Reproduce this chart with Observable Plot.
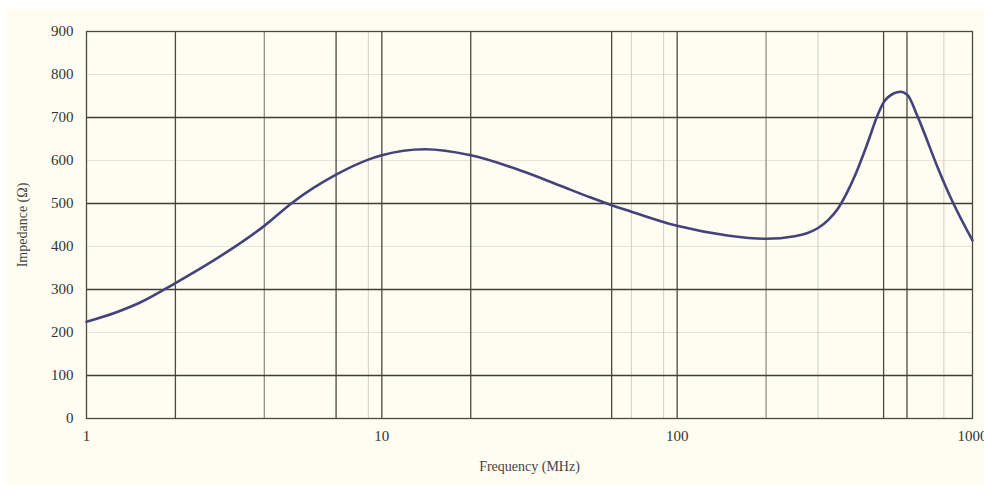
<!DOCTYPE html>
<html><head><meta charset="utf-8">
<script src="https://cdn.jsdelivr.net/npm/d3@7"></script>
<script src="https://cdn.jsdelivr.net/npm/@observablehq/plot@0.6"></script>
<style>
body{margin:0;background:#fff;}
#chart svg{display:block;border-top:9px solid #fff;border-left:6px solid #fff;background:#fffdf2;}
</style></head><body><div id="chart"></div>
<script>
const freq      = [1,   1.25, 1.5, 2,   3,   4,   5,   7,   9,   10,  14,  20,  30,  40,  50,  60,  70,  100, 150, 200, 250, 275, 300, 325, 350, 377, 400, 441, 477, 500, 541, 570, 603, 652, 762, 843, 1000];
const impedance = [225, 246,  268, 315, 388, 448, 503, 567, 602, 612, 626, 612, 575, 542, 516, 496, 481, 448, 425, 418, 424, 431, 443, 462, 488, 527, 565, 640, 705, 735, 756, 760, 752, 702, 584, 514, 414];
const xTicks = [1, 10, 100, 1000];
const yTicks = [0, 100, 200, 300, 400, 500, 600, 700, 800, 900];
const gridXDark = [2, 7, 10, 20, 60, 100, 500, 600];
const gridXMedium = [4, 200];
const gridXLight = [9, 70, 90, 300, 800];
const gridYDark = [100, 300, 500, 700];
const gridYLight = [200, 400, 600, 800];

const data = freq.map((f, i) => ({f, z: impedance[i]}));
const font = "'Liberation Serif', 'DejaVu Serif', serif";

const chart = Plot.plot({
  width: 978, height: 476,
  marginLeft: 80, marginRight: 12, marginTop: 22, marginBottom: 67,
  style: {background: "#fffdf2", fontFamily: font, fontSize: "15px", color: "#333", overflow: "hidden"},
  x: {type: "log", domain: [1, 1000]},
  y: {domain: [0, 900]},
  marks: [
    Plot.ruleY(gridYLight, {stroke: "#e6e3d3", strokeWidth: 1}),
    Plot.ruleX(gridXLight, {stroke: "#d2cfbf", strokeWidth: 1}),
    Plot.ruleX(gridXMedium, {stroke: "#8a887c", strokeWidth: 1.2}),
    Plot.ruleX(gridXDark, {stroke: "#4a4a40", strokeWidth: 1.3}),
    Plot.ruleY(gridYDark, {stroke: "#3f3f36", strokeWidth: 1.3}),
    Plot.frame({stroke: "#4a4a40", strokeWidth: 1.3}),
    Plot.axisX(xTicks, {tickSize: 0, tickPadding: 12, tickFormat: d => String(d), label: null, fill: "#333"}),
    Plot.axisY(yTicks, {tickSize: 0, tickPadding: 13, label: null, fill: "#333"}),
    Plot.text(["Frequency (MHz)"], {frameAnchor: "bottom", dy: 52, fontSize: 14, fill: "#444", fontFamily: font}),
    Plot.text(["Impedance (Ω)"], {frameAnchor: "left", dx: -64, rotate: -90, textAnchor: "middle", fontSize: 14, fill: "#444", fontFamily: font}),
    Plot.line(data, {x: "f", y: "z", curve: "monotone-x", stroke: "#43437c", strokeWidth: 2.6})
  ]
});
document.getElementById("chart").appendChild(chart);
</script></body></html>
